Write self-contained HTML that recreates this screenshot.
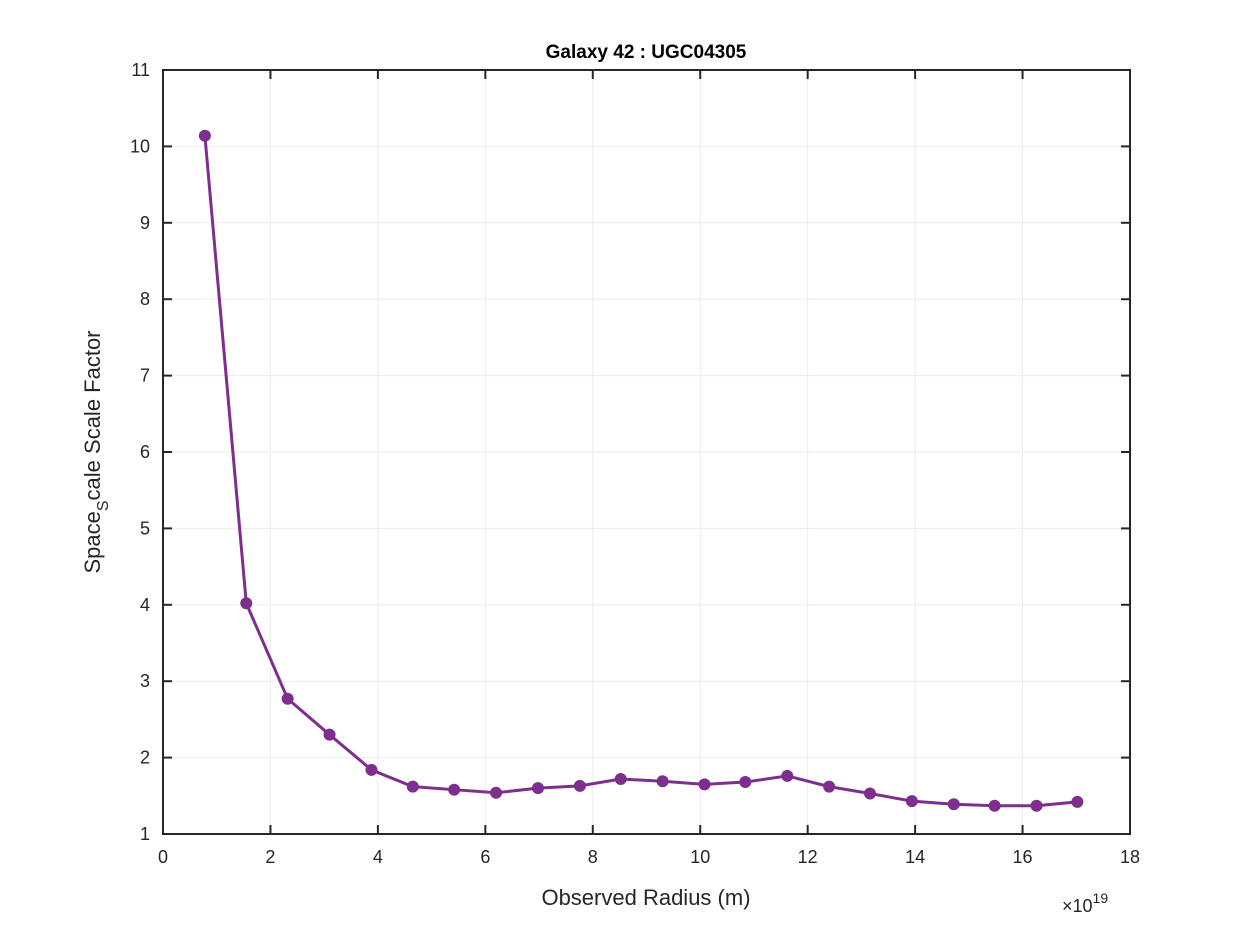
<!DOCTYPE html>
<html><head><meta charset="utf-8"><style>html,body{margin:0;padding:0;background:#fff}svg{display:block;font-family:"Liberation Sans",Arial,sans-serif}</style></head>
<body>
<svg id="chart" width="1250" height="938" viewBox="0 0 1250 938" xmlns="http://www.w3.org/2000/svg">
<rect x="0" y="0" width="1250" height="938" fill="#fff"/>
<rect x="163" y="70" width="967" height="764" fill="#fff"/>
<g id="grid"></g>
<g id="axes"></g>
<g id="series"></g>
<text x="646" y="58" text-anchor="middle" font-size="19" font-weight="bold" fill="#000">Galaxy 42 : UGC04305</text>
<text x="646" y="905" text-anchor="middle" font-size="22" fill="#262626">Observed Radius (m)</text>
<text transform="translate(100,452) rotate(-90)" text-anchor="middle" font-size="22" fill="#262626">Space<tspan font-size="16" dy="8">S</tspan><tspan dy="-8">cale Scale Factor</tspan></text>
<text x="1062" y="912" font-size="18" fill="#262626">×10<tspan font-size="14" dy="-9">19</tspan></text>
</svg>
<script>
const xValues=[0.78,1.55,2.32,3.1,3.88,4.65,5.42,6.2,6.98,7.76,8.52,9.3,10.08,10.84,11.62,12.4,13.16,13.94,14.72,15.48,16.26,17.02];
const yValues=[10.14,4.02,2.77,2.30,1.84,1.62,1.58,1.54,1.60,1.63,1.72,1.69,1.65,1.68,1.76,1.62,1.53,1.43,1.39,1.37,1.37,1.42];
const xTicks=[0,2,4,6,8,10,12,14,16,18];
const yTicks=[1,2,3,4,5,6,7,8,9,10,11];
const X0=163,X1=1130,Y0=834,Y1=70;
const sx=v=>X0+(v-0)/(18-0)*(X1-X0);
const sy=v=>Y0-(v-1)/(11-1)*(Y0-Y1);
const NS="http://www.w3.org/2000/svg";
function mk(tag,attrs,parent){const e=document.createElementNS(NS,tag);for(const k in attrs)e.setAttribute(k,attrs[k]);parent.appendChild(e);return e;}
const grid=document.getElementById('grid'),axes=document.getElementById('axes'),series=document.getElementById('series');
xTicks.forEach(t=>{const x=sx(t);
 const g=mk('line',{x1:x,x2:x,y1:Y1,y2:Y0,stroke:'#ebebeb','stroke-width':1},grid);
 
 
 const a=mk('line',{x1:x,x2:x,y1:Y0,y2:Y0-9,stroke:'#262626','stroke-width':2},axes);
 
 
 const b=mk('line',{x1:x,x2:x,y1:Y1,y2:Y1+9,stroke:'#262626','stroke-width':2},axes);
 
 
 const l=mk('text',{x:x,y:Y0+29,'text-anchor':'middle','font-size':18,fill:'#262626'},axes);l.textContent=t;
 
 
});
yTicks.forEach(t=>{const y=sy(t);
 const g=mk('line',{x1:X0,x2:X1,y1:y,y2:y,stroke:'#ebebeb','stroke-width':1},grid);
 
 
 const a=mk('line',{x1:X0,x2:X0+9,y1:y,y2:y,stroke:'#262626','stroke-width':2},axes);
 
 
 const b=mk('line',{x1:X1,x2:X1-9,y1:y,y2:y,stroke:'#262626','stroke-width':2},axes);
 
 
 const l=mk('text',{x:X0-13,y:y+6,'text-anchor':'end','font-size':18,fill:'#262626'},axes);l.textContent=t;
 
 
});
const box=mk('rect',{x:X0,y:Y1,width:X1-X0,height:Y0-Y1,fill:'none',stroke:'#262626','stroke-width':2},axes);


const pts=xValues.map((v,i)=>sx(v)+','+sy(yValues[i])).join(' ');
const pl=mk('polyline',{points:pts,fill:'none',stroke:'#7e2f8e','stroke-width':3},series);


xValues.forEach((v,i)=>{const c=mk('circle',{cx:sx(v),cy:sy(yValues[i]),r:6,fill:'#7e2f8e'},series);
 
 
});
</script>
</body></html>
